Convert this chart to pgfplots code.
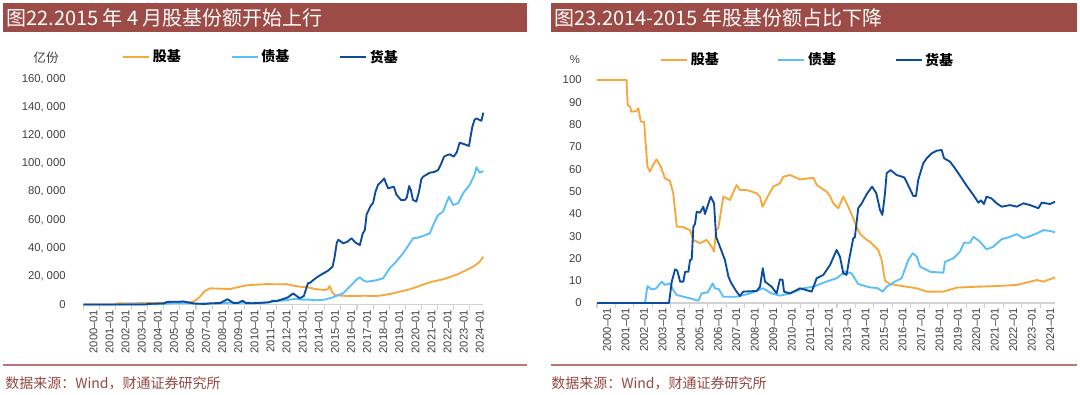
\documentclass[border=0pt]{standalone}
\usepackage{fontspec}
\setmainfont{Liberation Sans}
\newfontfamily\cjk{Noto Sans CJK SC}
\usepackage{pgfplots}
\pgfplotsset{compat=1.18}
\definecolor{titlered}{RGB}{156,75,70}
\definecolor{srcred}{RGB}{150,72,66}
\definecolor{linered}{RGB}{185,120,115}
\definecolor{cOrange}{RGB}{245,168,60}
\definecolor{cLight}{RGB}{90,190,250}
\definecolor{cDark}{RGB}{12,76,160}
\definecolor{tickgrey}{RGB}{64,64,64}
\definecolor{axgrey}{RGB}{210,210,210}

\pgfplotsset{
  mystyle/.style={
    scale only axis, anchor=south west, clip=false,
    axis x line*=bottom, axis y line*=left,
    y axis line style={draw=none}, ytick style={draw=none},
    x axis line style={draw=axgrey, line width=1.1pt},
    xtick style={draw=axgrey, line width=0.8pt},
    tick align=outside, major tick length=3.75pt,
    xtick={2000,2001,...,2024},
    xticklabels={2000--01,2001--01,2002--01,2003--01,2004--01,2005--01,2006--01,2007--01,2008--01,2009--01,2010--01,2011--01,2012--01,2013--01,2014--01,2015--01,2016--01,2017--01,2018--01,2019--01,2020--01,2021--01,2022--01,2023--01,2024--01},
    xticklabel style={rotate=90, anchor=east, inner sep=0pt, font=\fontsize{8.4}{8.4}\selectfont, text=tickgrey},
    yticklabel style={anchor=east, inner sep=0pt, font=\fontsize{8.5}{8.5}\selectfont, text=tickgrey},
    /pgf/number format/assume math mode=true,
    scaled y ticks=false,
    legend image code/.code={\draw[#1] (0pt,0pt) -- (19.5pt,0pt);},
    every axis plot/.append style={line width=1.4pt, line join=round},
  }
}

\begin{document}
\begin{tikzpicture}[x=0.75pt,y=0.75pt]
\useasboundingbox (0,0) rectangle (1080,394);
% title bars
\fill[titlered] (3,391) rectangle (527,362);
\fill[titlered] (551,391) rectangle (1077,362);
\node[anchor=west,text=white,inner sep=0pt,font=\cjk\fontsize{15}{15}\selectfont] at (6,376.5) {图22.2015 年 4 月股基份额开始上行};
\node[anchor=west,text=white,inner sep=0pt,font=\cjk\fontsize{15}{15}\selectfont] at (554,376.5) {图23.2014-2015 年股基份额占比下降};
% bottom rules
\draw[linered, line width=1.1pt] (3,29) -- (527,29);
\draw[linered, line width=1.1pt] (551,29) -- (1077,29);
\node[anchor=west,text=srcred,inner sep=0pt,font=\cjk\fontsize{10.5}{10.5}\selectfont] at (5,11) {数据来源：Wind，财通证券研究所};
\node[anchor=west,text=srcred,inner sep=0pt,font=\cjk\fontsize{10.5}{10.5}\selectfont] at (551,11) {数据来源：Wind，财通证券研究所};
% unit labels
\node[text=tickgrey,inner sep=0pt,font=\cjk\fontsize{9.5}{9.5}\selectfont] at (46,336) {亿份};
\node[text=tickgrey,inner sep=0pt,font=\fontsize{8.5}{8.5}\selectfont] at (575,334) {\%};

\begin{axis}[mystyle,
  at={(62.475pt,67.125pt)}, width=299.78pt, height=169.125pt,
  xmin=2000, xmax=2024.83, ymin=0, ymax=160000,
  ytick={0,20000,...,160000},
  yticklabel style={xshift=-9.3pt},
  yticklabel={\pgfmathprintnumber[fixed,precision=0,1000 sep={,\hspace{0.25em}}]{\tick}},
  xticklabel style={yshift=-7.6pt},
  legend style={at={(0.097,1.0976)}, anchor=west, draw=none, fill=none,
    legend columns=3, inner sep=0pt,
    font=\cjk\bfseries\fontsize{10.5}{10.5}\selectfont,
    /tikz/every even column/.append style={column sep=35.5pt}},
]
\addplot[cOrange] coordinates {(2000,0) (2002.0,0) (2002.1,800) (2004,1000) (2005,1200) (2006,1500) (2006.7,1700) (2006.9,2500) (2007.2,5000) (2007.5,9000) (2007.7,10500) (2007.9,11500) (2008.5,11200) (2009.1,11000) (2009.5,12000) (2010.1,13500) (2010.35,13800) (2011.0,14200) (2011.4,14500) (2012.4,14300) (2012.6,14500) (2013.0,13500) (2013.45,12600) (2013.7,12500) (2014.0,12000) (2014.48,10800) (2015.0,10300) (2015.2,11000) (2015.3,13100) (2015.45,9000) (2015.62,6700) (2016.0,6300) (2016.55,6000) (2017.5,6200) (2018.2,6000) (2018.7,6800) (2019.24,7900) (2019.8,9500) (2020.27,10800) (2020.8,12800) (2021.3,15000) (2021.8,16500) (2022.35,17900) (2022.9,20000) (2023.38,22100) (2023.8,24500) (2024.21,26800) (2024.6,30000) (2024.85,33900)};
\addlegendentry{股基}
\addplot[cLight] coordinates {(2000,0) (2002.6,0) (2002.7,300) (2005,300) (2005.2,800) (2006.5,1000) (2007,500) (2008,700) (2009,1200) (2010,1300) (2011,1000) (2011.8,2000) (2012.5,3000) (2013.2,4000) (2013.5,3500) (2014.0,3500) (2014.5,3000) (2015.0,3500) (2015.5,5100) (2015.8,6500) (2016.14,7900) (2016.4,11000) (2016.76,15000) (2017.0,18000) (2017.18,19300) (2017.4,17000) (2017.59,16200) (2018.0,16800) (2018.3,17500) (2018.62,18600) (2019.03,25700) (2019.4,30000) (2019.86,36300) (2020.2,42000) (2020.48,47000) (2020.8,47500) (2021.1,48600) (2021.52,50500) (2021.8,58000) (2022.04,63500) (2022.35,65900) (2022.55,72000) (2022.72,76500) (2022.97,70600) (2023.28,71800) (2023.59,78900) (2024.0,84800) (2024.3,92000) (2024.42,97400) (2024.62,93500) (2024.85,94700)};
\addlegendentry{债基}
\addplot[cDark] coordinates {(2000,0) (2003.9,0) (2004.0,400) (2004.5,600) (2005.0,800) (2005.2,1800) (2005.6,2000) (2006.0,2000) (2006.2,2200) (2006.5,1500) (2006.9,700) (2007.5,400) (2008.0,900) (2008.5,1000) (2008.96,3800) (2009.3,1200) (2009.6,1000) (2009.9,2700) (2010.1,1000) (2010.5,900) (2011.0,1200) (2011.5,1500) (2011.8,2700) (2012.0,2500) (2012.3,3500) (2012.7,5000) (2013.04,7900) (2013.2,6500) (2013.45,4400) (2013.7,6000) (2013.95,15000) (2014.1,15500) (2014.3,17500) (2014.6,20000) (2014.9,22000) (2015.2,24000) (2015.48,26800) (2015.6,33000) (2015.75,44000) (2015.85,46000) (2016.14,43400) (2016.4,44500) (2016.66,47000) (2016.9,44000) (2017.18,42200) (2017.35,50000) (2017.49,53000) (2017.6,64000) (2017.69,66000) (2017.85,70000) (2018.0,72000) (2018.15,80000) (2018.31,85000) (2018.5,87000) (2018.69,89500) (2018.8,86000) (2018.94,82400) (2019.1,83000) (2019.29,83600) (2019.45,78000) (2019.56,76500) (2019.75,74000) (2019.97,74200) (2020.1,76000) (2020.24,84100) (2020.35,81000) (2020.48,74200) (2020.69,73000) (2020.85,80000) (2021.0,89000) (2021.11,90700) (2021.3,92000) (2021.52,93500) (2021.8,94000) (2022.04,95400) (2022.2,99000) (2022.41,104900) (2022.6,106000) (2022.76,106600) (2023.01,104900) (2023.2,108000) (2023.38,114800) (2023.6,114000) (2023.96,112500) (2024.1,122000) (2024.17,126200) (2024.3,131000) (2024.42,132100) (2024.6,131000) (2024.73,130400) (2024.85,136100)};
\addlegendentry{货基}
\end{axis}

\begin{axis}[mystyle,
  at={(447.75pt,68.25pt)}, width=343.5pt, height=167.25pt,
  xmin=2000, xmax=2024.81, ymin=0, ymax=100,
  ytick={0,10,...,100},
  yticklabel style={xshift=-7.6pt},
  xticklabel style={yshift=-7.6pt},
  legend style={at={(0.1376,1.0897)}, anchor=west, draw=none, fill=none,
    legend columns=3, inner sep=0pt,
    font=\cjk\bfseries\fontsize{10.5}{10.5}\selectfont,
    /tikz/every even column/.append style={column sep=42pt}},
]
\addplot[cOrange] coordinates {(2000,100) (2001.6,100) (2001.66,88.8) (2001.8,88) (2001.85,85.8) (2002.1,86) (2002.24,87.3) (2002.37,81.3) (2002.55,81.3) (2002.73,61.1) (2002.87,58.9) (2003.01,61.4) (2003.22,64.4) (2003.46,61.1) (2003.68,55.9) (2003.95,54.8) (2004.13,49.2) (2004.32,34.2) (2004.59,34.2) (2005.04,32.7) (2005.22,28.3) (2005.58,26.8) (2005.94,28.3) (2006.21,25.2) (2006.34,23.0) (2006.45,32.7) (2006.57,33.5) (2006.84,47.7) (2007.2,46.2) (2007.56,52.9) (2007.74,50.7) (2008.1,50.7) (2008.65,49.2) (2008.83,47.7) (2008.96,43.2) (2009.19,46.9) (2009.55,52.2) (2009.91,53.7) (2010.09,56.6) (2010.45,57.4) (2011.0,55.4) (2011.72,56.2) (2011.9,52.9) (2012.44,49.9) (2012.62,48) (2012.8,44.7) (2013.07,42.5) (2013.34,47.7) (2013.61,43.2) (2013.88,38.0) (2014.06,34.2) (2014.25,31.0) (2014.61,28.3) (2014.78,27.5) (2015.06,25.2) (2015.23,23.8) (2015.42,19.3) (2015.6,10) (2015.87,8.5) (2016.77,7.3) (2017.32,6.6) (2017.86,5.1) (2018.76,5.1) (2019.49,6.9) (2020.57,7.3) (2021.65,7.6) (2022.74,8.1) (2023.82,10.3) (2024.18,9.6) (2024.81,11.5)};
\addlegendentry{股基}
\addplot[cLight] coordinates {(2000,0) (2002.6,0) (2002.73,7.6) (2002.96,6.1) (2003.2,6.5) (2003.5,9.6) (2003.68,8.1) (2003.95,8.8) (2004.13,5.8) (2004.32,3.6) (2005.04,2.1) (2005.49,1.0) (2005.67,4.3) (2006.0,4.8) (2006.27,8.8) (2006.39,6.6) (2006.6,6.2) (2006.84,2.8) (2007.56,2.8) (2008.29,4.3) (2009.0,6.6) (2009.46,4.3) (2009.91,3.3) (2010.45,4.3) (2011.18,6.6) (2011.72,7.3) (2012.26,9.1) (2012.98,11.1) (2013.43,14.0) (2013.79,13.3) (2014.15,8.5) (2014.78,7.0) (2015.18,6.7) (2015.48,5.1) (2015.69,7.3) (2016.14,9.6) (2016.5,11.1) (2016.86,19.3) (2017.1,22.3) (2017.32,20.8) (2017.5,16.3) (2018.05,14.0) (2018.76,13.6) (2018.85,18.5) (2019.3,20.0) (2019.66,23.0) (2019.88,27.0) (2020.2,27.0) (2020.39,29.7) (2020.75,27.5) (2021.1,24.1) (2021.46,25.2) (2021.92,28.6) (2022.37,29.7) (2022.74,30.9) (2023.1,29.0) (2023.46,30.0) (2023.91,31.5) (2024.18,32.7) (2024.54,32.3) (2024.81,31.7)};
\addlegendentry{债基}
\addplot[cDark] coordinates {(2000,0) (2003.9,0) (2004.05,9.6) (2004.23,15.1) (2004.35,14.5) (2004.5,9.6) (2004.68,9.6) (2004.77,14.0) (2004.95,14.0) (2005.04,19.3) (2005.13,19.5) (2005.22,34.2) (2005.31,35.5) (2005.4,40.9) (2005.58,40.5) (2005.76,43.2) (2005.85,39.9) (2005.98,43.2) (2006.16,47.7) (2006.34,44.7) (2006.45,29.7) (2006.66,25.2) (2006.93,19.3) (2007.12,11.8) (2007.28,8.8) (2007.56,5.1) (2007.74,3.1) (2007.92,5.1) (2008.65,5.4) (2008.83,7.3) (2008.98,15.6) (2009.1,9.6) (2009.46,7.3) (2009.73,4.3) (2009.91,10.6) (2010.05,10.4) (2010.13,5.1) (2010.45,4.3) (2011.0,6.6) (2011.63,5.1) (2011.9,11.1) (2012.26,12.6) (2012.62,17.0) (2012.98,23.8) (2013.16,20.8) (2013.34,13.3) (2013.52,12.6) (2013.67,20.0) (2013.88,29.0) (2013.97,29.5) (2014.15,42.5) (2014.34,44.7) (2014.61,48.8) (2014.9,52.2) (2015.13,49.2) (2015.33,41.7) (2015.46,39.5) (2015.6,49.2) (2015.69,58.2) (2015.9,59.6) (2016.23,57.4) (2016.65,56.3) (2016.96,51.0) (2017.13,48.0) (2017.28,48.0) (2017.4,55.2) (2017.67,62.6) (2017.86,64.9) (2018.13,67.1) (2018.4,68.3) (2018.67,68.6) (2018.8,64.9) (2019.12,63.4) (2019.39,60.4) (2019.76,55.9) (2020.03,52.5) (2020.39,48.4) (2020.66,45.0) (2020.8,46.0) (2020.96,44.4) (2021.1,47.7) (2021.37,46.9) (2021.65,44.7) (2021.92,43.2) (2022.37,43.9) (2022.74,43.2) (2023.1,44.7) (2023.46,43.9) (2023.91,42.5) (2024.09,45.0) (2024.54,44.4) (2024.81,45.4)};
\addlegendentry{货基}
\end{axis}
\end{tikzpicture}
\end{document}
